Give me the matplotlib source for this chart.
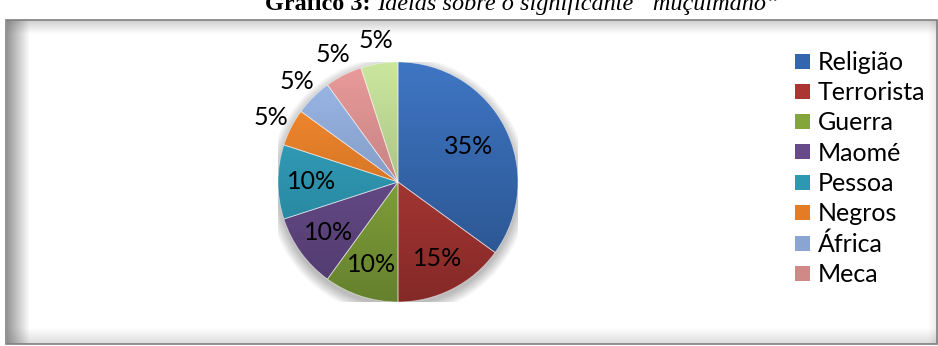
import numpy as np
import matplotlib
matplotlib.use("Agg")
import matplotlib.pyplot as plt
from matplotlib.colors import LinearSegmentedColormap, to_rgb
from matplotlib.patches import Rectangle, Circle

# data
categories = ["Religião", "Terrorista", "Guerra", "Maomé", "Pessoa",
              "Negros", "África", "Meca", "Outros"]
values = [35, 15, 10, 10, 10, 5, 5, 5, 5]
pct_labels = ["35%", "15%", "10%", "10%", "10%", "5%", "5%", "5%", "5%"]
colors = ["#3366AE", "#AA3532", "#83A53A", "#664A8A", "#2C98B4",
          "#E37C25", "#8AA5D2", "#D18988", "#B5CF8C"]

W, H = 938, 346
fig = plt.figure(figsize=(W / 100, H / 100), dpi=100)

# background + frame (pixel coordinates)
bg = fig.add_axes([0, 0, 1, 1])
bg.axis("off")

def strip(x0, x1, y0, y1, horizontal, a0, a1):
    n = 64
    a = np.linspace(a0, a1, n)
    if horizontal:
        arr = np.zeros((1, n, 4))
        arr[0, :, 3] = a
    else:
        arr = np.zeros((n, 1, 4))
        arr[:, 0, 3] = a
    arr[..., :3] = 0.45
    bg.imshow(arr, extent=(x0, x1, y1, y0), aspect="auto", interpolation="bilinear")

strip(7, 30, 20, 344, True, 0.75, 0.0)      # left inner shadow
strip(7, 938, 20, 34, False, 0.35, 0.0)     # top
strip(7, 938, 328, 344, False, 0.0, 0.25)   # bottom
strip(928, 937, 20, 344, True, 0.0, 0.15)   # right
bg.add_patch(Rectangle((6, 20), 931, 324, fill=False, ec="#7f7f7f", lw=1.2))
bg.set_xlim(0, W)
bg.set_ylim(H, 0)

# title, cut off at the top edge as in the source image
t1 = bg.text(265, 10, "Gráfico 3: ", family="Liberation Serif", weight="bold",
             fontsize=17.5, va="baseline", ha="left", color="black")
fig.canvas.draw()
bb = t1.get_window_extent()
bg.text(265 + bb.width, 10, "Ideias sobre o significante “muçulmano”",
        family="Liberation Serif", style="italic", fontsize=17.5,
        va="baseline", ha="left", color="black")

# pie
cx, cy, r = 398, 182, 120
ax = fig.add_axes([(cx - r) / W, (H - cy - r) / H, 2 * r / W, 2 * r / H])
ax.axis("off")

# soft shadow below the pie
for k in range(8):
    ax.add_patch(Circle((0.0, -0.035), 1.0 + k * 0.012, color="#000000",
                        alpha=0.035, lw=0, zorder=0))

wedges, _ = ax.pie(values, colors=colors, startangle=90, counterclock=False,
                   radius=1.0, wedgeprops=dict(lw=0.6, ec=(1, 1, 1, 0.5)))

grad = np.linspace(0, 1, 256).reshape(-1, 1)
for w, c in zip(wedges, colors):
    base = np.array(to_rgb(c))
    light = np.clip(base * 1.08 + 0.03, 0, 1)
    dark = base * 0.78
    cmap = LinearSegmentedColormap.from_list("g", [dark, light])
    im = ax.imshow(grad, extent=(-1, 1, -1, 1), origin="lower", cmap=cmap,
                   aspect="auto", zorder=1.5)
    im.set_clip_path(w)
    w.set_facecolor("none")
    w.set_zorder(2)

ax.set_xlim(-1, 1)
ax.set_ylim(-1, 1)

for w, v, lab in zip(wedges, values, pct_labels):
    ang = np.deg2rad((w.theta1 + w.theta2) / 2)
    if v >= 30:
        d = 0.66
    elif v >= 10:
        d = 0.72
    else:
        d = 1.19
    ax.text(d * np.cos(ang), d * np.sin(ang), lab, ha="center", va="center",
            fontsize=18, family="Lato", color="black", zorder=5, clip_on=False)

# legend (first eight entries, as in the original)
handles = [Rectangle((0, 0), 1, 1, fc=c, ec="none") for c in colors[:8]]
fig.legend(handles, categories[:8], loc="upper left",
           bbox_to_anchor=(795 / W, 1 - 51 / H), frameon=False,
           prop=dict(family="Lato", size=18), handlelength=0.6,
           handleheight=0.55, handletextpad=0.32, labelspacing=0.29,
           borderpad=0, borderaxespad=0)

fig.savefig("out.png", dpi=100)
